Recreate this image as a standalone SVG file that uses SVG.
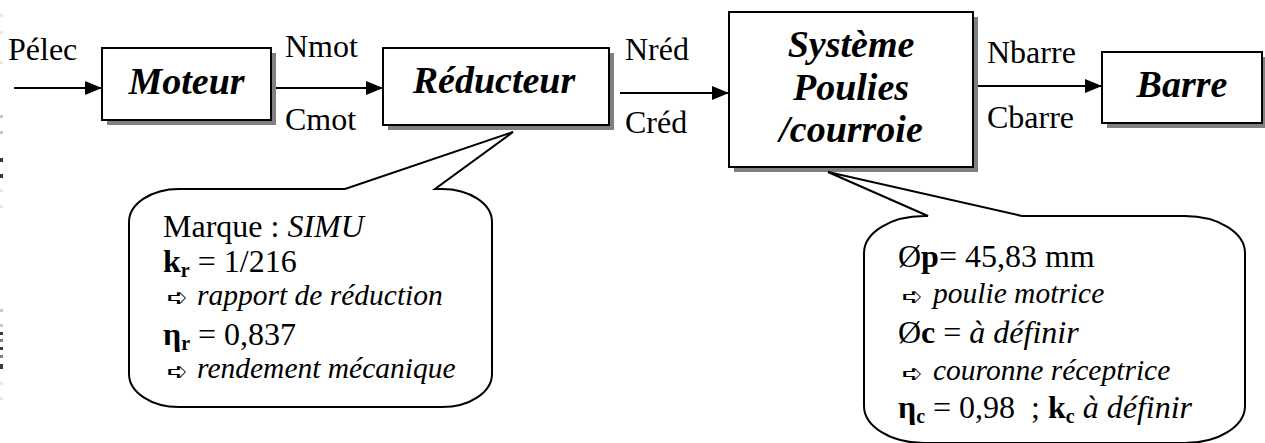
<svg xmlns="http://www.w3.org/2000/svg" width="1265" height="443" viewBox="0 0 1265 443">
  <style>
    text { font-family: 'Liberation Serif', Tinos, 'Times New Roman', 'DejaVu Serif', serif; fill: #000; }
    .t { font-size: 32px; }
    .ti { font-size: 29.5px; font-style: italic; }
    .title { font-size: 38px; font-weight: bold; font-style: italic; text-anchor: middle; }
    .b { font-weight: bold; }
    .i { font-style: italic; }
    .sub { font-size: 20px; font-weight: bold; }
    text.sym { font-family: 'DejaVu Sans', sans-serif; font-size: 25px; }
    .box { fill: #fff; stroke: #000; stroke-width: 2; }
    .shadow { fill: #808080; }
    .link { stroke: #000; stroke-width: 2; fill: none; marker-end: url(#arrow); }
    .bubble { fill: #fff; stroke: #000; stroke-width: 2; stroke-linejoin: miter; }
    .edge { fill: #c8c8c8; }
    .edge-d { fill: #3a3a3a; }
  </style>
  <defs>
    <marker id="arrow" markerWidth="18" markerHeight="14" refX="17" refY="7" orient="auto" markerUnits="userSpaceOnUse">
      <path d="M0,0 L17,7 L0,14 Z" fill="#000"/>
    </marker>
  </defs>

  <rect width="1265" height="443" fill="#fff"/>

  <!-- marks along the left margin -->
  <g id="margin-marks">
    <rect class="edge" x="0" y="14" width="3" height="3" opacity="0.4"/>
    <rect class="edge" x="0" y="31" width="3" height="3" opacity="0.4"/>
    <rect class="edge" x="0" y="61" width="3" height="3" opacity="0.4"/>
    <rect class="edge" x="0" y="115" width="3" height="3"/>
    <rect class="edge" x="0" y="131" width="3" height="3"/>
    <rect class="edge-d" x="0" y="158" width="3" height="4"/>
    <rect class="edge-d" x="0" y="174" width="3" height="4"/>
    <rect class="edge" x="0" y="189" width="3" height="3" opacity="0.4"/>
    <rect class="edge" x="0" y="205" width="3" height="3" opacity="0.4"/>
    <rect class="edge" x="0" y="309" width="3" height="3"/>
    <rect class="edge" x="0" y="324" width="3" height="3"/>
    <rect class="edge-d" x="0" y="332" width="3" height="3"/>
    <rect class="edge" x="0" y="339" width="3" height="3" style="fill:#808080"/>
    <rect class="edge-d" x="0" y="347" width="3" height="3"/>
    <rect class="edge" x="0" y="355" width="3" height="3" style="fill:#808080"/>
    <rect class="edge-d" x="0" y="364" width="3" height="5"/>
    <rect class="edge" x="0" y="382" width="3" height="3" opacity="0.4"/>
    <rect class="edge" x="0" y="397" width="3" height="3" opacity="0.4"/>
  </g>

  <!-- flow connectors -->
  <g id="connectors">
    <line class="link" x1="14" y1="88" x2="102" y2="88"/>
    <line class="link" x1="276" y1="88" x2="383" y2="88"/>
    <line class="link" x1="620" y1="93" x2="729" y2="93"/>
    <line class="link" x1="975" y1="86" x2="1102" y2="86"/>
    <text class="t" x="8" y="60">Pélec</text>
    <text class="t" x="285" y="57">Nmot</text>
    <text class="t" x="285" y="130">Cmot</text>
    <text class="t" x="625" y="60">Nréd</text>
    <text class="t" x="625" y="133">Créd</text>
    <text class="t" x="987" y="63">Nbarre</text>
    <text class="t" x="987" y="128">Cbarre</text>
  </g>

  <g id="moteur">
    <rect class="shadow" x="107" y="53" width="169" height="72"/>
    <rect class="box" x="102" y="48" width="169" height="72"/>
    <text class="title" x="186.5" y="94">Moteur</text>
  </g>

  <g id="reducteur">
    <rect class="shadow" x="388" y="53" width="226" height="77"/>
    <rect class="box" x="383" y="48" width="226" height="77"/>
    <text class="title" x="494" y="93">Réducteur</text>
  </g>

  <g id="poulies">
    <rect class="shadow" x="734" y="17" width="244" height="155"/>
    <rect class="box" x="729" y="12" width="244" height="155"/>
    <text class="title" x="851" y="57">Système</text>
    <text class="title" x="851" y="100">Poulies</text>
    <text class="title" x="851" y="142">/courroie</text>
  </g>

  <g id="barre">
    <rect class="shadow" x="1107" y="57" width="160" height="71"/>
    <rect class="box" x="1102" y="52" width="160" height="71"/>
    <text class="title" x="1182" y="97">Barre</text>
  </g>

  <!-- gear unit data -->
  <g id="note-reducteur">
    <path class="bubble" d="M179,189 L345,189 L513,132 L435,189 L442,189 A50,33 0 0 1 492,222 L492,374 A50,33 0 0 1 442,407 L179,407 A50,33 0 0 1 129,374 L129,222 A50,33 0 0 1 179,189 Z"/>
    <text class="t" x="163" y="237">Marque : <tspan class="i">SIMU</tspan></text>
    <text class="t" x="163" y="272"><tspan class="b">k</tspan><tspan class="sub" dy="5">r</tspan><tspan dy="-5"> = 1/216</tspan></text>
    <text class="sym" x="167" y="306">➪</text>
    <text class="ti" x="197" y="305">rapport de réduction</text>
    <text class="t" x="163" y="345"><tspan class="b">η</tspan><tspan class="sub" dy="5">r</tspan><tspan dy="-5"> = 0,837</tspan></text>
    <text class="sym" x="167" y="380">➪</text>
    <text class="ti" x="197" y="378">rendement mécanique</text>
  </g>

  <!-- pulley/belt data -->
  <g id="note-poulies">
    <path class="bubble" d="M924,216 L928,216 L828,172 L1022,216 L1185,216 A60,37 0 0 1 1245,253 L1245,406 A60,37 0 0 1 1185,443 L924,443 A60,37 0 0 1 864,406 L864,253 A60,37 0 0 1 924,216 Z"/>
    <text class="t" x="898" y="267">Ø<tspan class="b">p</tspan>= 45,83 mm</text>
    <text class="sym" x="902" y="305">➪</text>
    <text class="ti" x="933" y="303">poulie motrice</text>
    <text class="t" x="898" y="343">Ø<tspan class="b">c</tspan> = <tspan class="i">à définir</tspan></text>
    <text class="sym" x="902" y="382">➪</text>
    <text class="ti" x="933" y="380">couronne réceptrice</text>
    <text class="t" x="898" y="418" xml:space="preserve"><tspan class="b">η</tspan><tspan class="sub" dy="5">c</tspan><tspan dy="-5"> = 0,98  ; </tspan><tspan class="b">k</tspan><tspan class="sub" dy="5">c</tspan><tspan dy="-5" class="i"> à définir</tspan></text>
  </g>
</svg>
